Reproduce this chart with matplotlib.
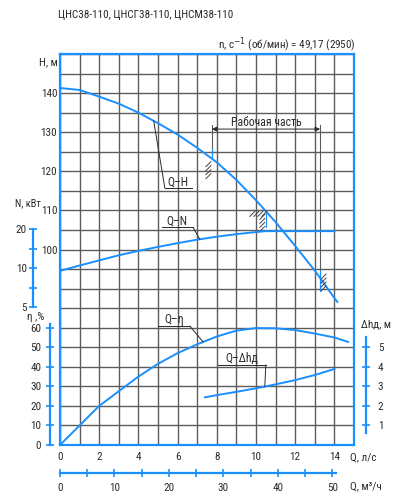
import matplotlib.pyplot as plt
import numpy as np
from matplotlib import font_manager
from matplotlib.ticker import FixedLocator, NullLocator
from matplotlib.transforms import ScaledTranslation

# pick the narrowest installed face
installed = {f.name for f in font_manager.fontManager.ttflist}
family = 'DejaVu Sans'
for name in ['Liberation Sans Narrow', 'DejaVu Sans Condensed', 'Roboto Condensed',
             'Roboto', 'Liberation Sans']:
    if name in installed:
        family = name
        break
plt.rcParams['font.family'] = [family, 'DejaVu Sans']
plt.rcParams['font.size'] = 8

BLUE = '#1a8fff'
GRID = '#5c5c5c'
INK = '#2b2b2b'

# values, Q in l/s
q_h = [0, 1, 2, 3, 4, 5, 6, 7, 8, 9, 10, 11, 12, 13, 14, 14.15]
head = [141.3, 140.8, 139.1, 137.3, 135.0, 132.3, 129.4, 126.0, 122.3, 117.8,
        112.6, 107.0, 100.9, 94.6, 87.6, 86.6]

q_n = [0, 1, 2, 3, 4, 5, 6, 7, 8, 9, 10, 10.5, 11, 12, 13, 14]
power = [9.55, 10.5, 11.5, 12.6, 13.6, 14.6, 15.6, 16.6, 17.5, 18.3, 19.0,
         19.3, 19.3, 19.3, 19.3, 19.3]

q_eff = [0, 1, 2, 3, 4, 5, 6, 7, 8, 9, 10, 11, 12, 13, 14, 14.7]
eff = [0, 10, 20, 27.5, 35, 41.5, 47, 51.5, 55.5, 58.5, 59.8, 59.7, 58.8, 57,
       55, 52.7]

q_npsh = [7.4, 8, 9, 10, 11, 12, 13, 14]
npsh = [2.44, 2.55, 2.72, 2.9, 3.1, 3.32, 3.58, 3.89]

work_q = [7.75, 13.27]
opt_point = [10.5, 110]

W, H = 397, 500
fig = plt.figure(figsize=(W / 100, H / 100), dpi=100)
ax = fig.add_axes([60 / W, 1 - 445 / H, 294 / W, 391 / H])
ax.set_xlim(0, 15)
ax.set_ylim(50, 150)
ax.set_xticks(np.arange(0, 15, 2))
ax.set_xticks(np.arange(1, 16, 2), minor=True)
ax.set_yticks([100, 110, 120, 130, 140])
ax.set_yticks([v for v in range(50, 151, 5) if v not in (100, 110, 120, 130, 140)],
              minor=True)
ax.grid(which='both', color=GRID, lw=1.0)
ax.tick_params(which='both', length=0, labelcolor=INK)
ax.tick_params(axis='x', pad=5)
ax.tick_params(axis='y', pad=2)
ax.set_axisbelow(True)
for s in ax.spines.values():
    s.set_color(BLUE)
    s.set_linewidth(1.6)

ax.plot(q_h, head, color=BLUE, lw=1.4, zorder=5)

# px -> data steps on the main axes
dq = 15 / 294
dh = 100 / 391


def side_axis(xpos, bounds, side, ticks, labels, pad, log=False, ylim=None):
    a = ax.twinx()
    if log:
        a.set_yscale('log')
    a.set_ylim(*ylim)
    for k in a.spines:
        a.spines[k].set_visible(False)
    sp = a.spines[side]
    sp.set_visible(True)
    sp.set_position(('axes', xpos))
    sp.set_bounds(*bounds)
    sp.set_color(BLUE)
    sp.set_linewidth(1.6)
    a.yaxis.set_ticks_position(side)
    a.yaxis.set_major_locator(FixedLocator(ticks))
    a.yaxis.set_minor_locator(NullLocator())
    a.set_yticklabels(labels)
    a.tick_params(axis='y', colors=BLUE, labelcolor=INK, direction='inout',
                  length=6, width=1.2, pad=pad)
    return a


# power axis is logarithmic: 20, 10, 5 are evenly spaced
ax_n = side_axis(-27 / 294, (5, 20), 'left', [5, 7.07, 10, 14.14, 20],
                 ['5', '', '10', '', '20'], 1.5, log=True, ylim=(0.437, 445))
ax_n.plot(q_n, power, color=BLUE, lw=1.4, zorder=5)

ax_e = side_axis(-10.5 / 294, (0, 62), 'left', np.arange(0, 61, 10),
                 [str(v) for v in range(0, 61, 10)], 3, ylim=(0, 200))
ax_e.plot(q_eff, eff, color=BLUE, lw=1.4, zorder=5)

ax_d = side_axis(306 / 294, (0.6, 5.5), 'right', [1, 2, 3, 4, 5],
                 ['1', '2', '3', '4', '5'], 5.5, ylim=(0, 20))
ax_d.plot(q_npsh, npsh, color=BLUE, lw=1.4, zorder=5)

# flow in m3/h
sec = ax.secondary_xaxis(-28.3 / 391, functions=(lambda q: q * 3.6, lambda m: m / 3.6))
sec.set_xticks(np.arange(0, 51, 10))
sec.set_xticks(np.arange(5, 50, 10), minor=True)
sec.spines['bottom'].set_color(BLUE)
sec.spines['bottom'].set_linewidth(1.6)
sec.spines['bottom'].set_bounds(0, 50.7)
sec.tick_params(which='both', colors=BLUE, labelcolor=INK, direction='inout',
                length=6, width=1.2, pad=4)


def tag(a, text, ux0, ux1, uy, cq, cx, cy_arr, from_left=False):
    cy = np.interp(cq, cx, cy_arr)
    a.plot([ux0, ux1], [uy, uy], color=INK, lw=0.7, zorder=6)
    end = ux0 if from_left else ux1
    a.plot([end, cq], [uy, cy], color=INK, lw=0.7, zorder=6)
    off = ScaledTranslation(0, 2 / 72, fig.dpi_scale_trans)
    a.text((ux0 + ux1) / 2, uy, text, ha='center', va='baseline',
           transform=a.transData + off, color=INK, fontsize=8.5, zorder=7)


tag(ax, 'Q–H', 5.35, 6.71, 115.7, 4.78, q_h, head, from_left=True)
tag(ax_n, 'Q–N', 5.18, 6.79, 20.6, 7.13, q_n, power)
tag(ax_e, 'Q–η', 5.0, 6.63, 60.8, 7.3, q_eff, eff)
tag(ax_d, 'Q–Δhд', 8.07, 10.5, 4.09, 10.45, q_npsh, npsh)

# working range
h_l = np.interp(work_q[0], q_h, head)
h_r = np.interp(work_q[1], q_h, head)
ax.plot([work_q[0], work_q[0]], [131.8, h_l], color=GRID, lw=0.8, zorder=4)
ax.plot([work_q[1], work_q[1]], [131.8, 89.7], color=GRID, lw=0.8, zorder=4)
ax.annotate('', xy=(work_q[0], 130.8), xytext=(work_q[1], 130.8),
            arrowprops=dict(arrowstyle='<|-|>', color=INK, lw=0.7,
                            mutation_scale=7, shrinkA=0, shrinkB=0), zorder=6)
ax.text(sum(work_q) / 2, 132.6, 'Рабочая часть', ha='center', va='center',
        color=INK, fontsize=8.5)

hatch = dict(color='#444444', lw=0.7, zorder=6)
# left mark
q0, h0 = work_q[0], h_l
ax.plot([q0, q0], [h0, h0 + 10 * dh], color=BLUE, lw=0.8, zorder=6)
for k in range(4):
    y = h0 - (3 + 4 * k) * dh
    ax.plot([q0 - 6 * dq, q0 - dq], [y - 5 * dh, y], **hatch)
# optimum corner
q1, h1 = opt_point
ax.plot([q1 - 17 * dq, q1], [h1, h1], color=GRID, lw=0.8, zorder=6)
ax.plot([q1, q1], [h1, h1 - 17 * dh], color=BLUE, lw=0.8, zorder=6)
for k in range(4):
    x = q1 - (16 - 4 * k) * dq
    ax.plot([x, x + 5 * dq], [h1 - 6 * dh, h1 - dh], **hatch)
for k in range(4):
    y = h1 - (4 + 4 * k) * dh
    ax.plot([q1 - 6 * dq, q1 - dq], [y - 5 * dh, y], **hatch)
# right mark
q2, h2 = work_q[1], h_r
ax.plot([q2, q2], [h2 + 7 * dh, h2 - 13 * dh], color=BLUE, lw=0.8, zorder=6)
for k in range(4):
    y = h2 + (4 - 4 * k) * dh
    ax.plot([q2 + dq, q2 + 6 * dq], [y - 5 * dh, y], **hatch)


def ftext(x, y, s, **kw):
    fig.text(x / W, 1 - y / H, s, color=INK, va='center', **kw)


ftext(58, 15, 'ЦНС38-110, ЦНСГ38-110, ЦНСМ38-110', ha='left', fontsize=8)
ftext(356, 45, 'n, c$^{-1}$ (об/мин) = 49,17 (2950)', ha='right', fontsize=8)
ftext(58, 62, 'H, м', ha='right')
ftext(28, 203, 'N, кВт', ha='center', fontsize=7.5)
ftext(36, 317, 'η ,%', ha='center')
ftext(376, 324, 'Δhд, м', ha='center')
ftext(350, 457, 'Q, л/с', ha='left')
ftext(350, 486, 'Q, м³/ч', ha='left')

fig.savefig('out.png', dpi=100)
